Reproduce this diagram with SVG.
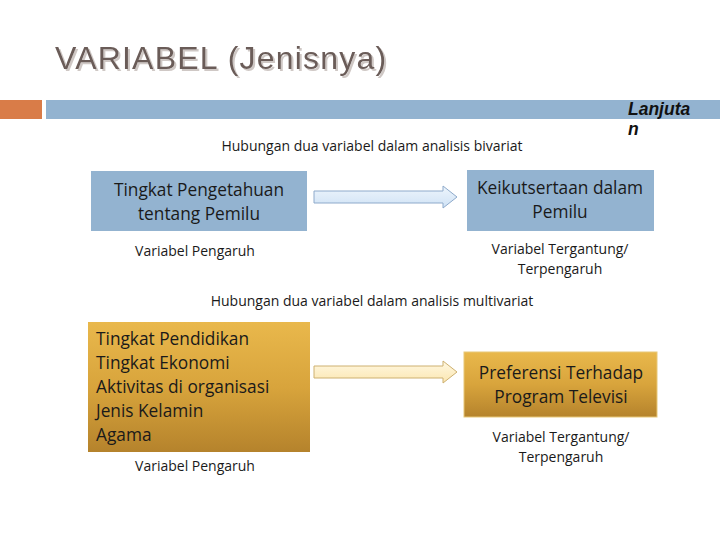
<svg xmlns="http://www.w3.org/2000/svg" width="720" height="540" viewBox="0 0 720 540">
<defs>
<linearGradient id="gold" x1="0" y1="0" x2="0" y2="1">
<stop offset="0" stop-color="#e9b84c"/>
<stop offset="0.5" stop-color="#d8a43c"/>
<stop offset="1" stop-color="#b5832c"/>
</linearGradient>
<linearGradient id="blueArrow" x1="0" y1="0" x2="0" y2="1">
<stop offset="0" stop-color="#eef5fc"/>
<stop offset="1" stop-color="#cfe2f5"/>
</linearGradient>
<linearGradient id="yelArrow" x1="0" y1="0" x2="0" y2="1">
<stop offset="0" stop-color="#fff8e2"/>
<stop offset="1" stop-color="#fbe6b0"/>
</linearGradient>
<filter id="shadow" x="-5%" y="-20%" width="110%" height="140%">
<feDropShadow dx="2" dy="2" stdDeviation="0.4" flood-color="#cfc8c5"/>
</filter>
</defs>
<style>
.t{font-family:"Open Sans","Liberation Sans",sans-serif;fill:#1a1a1a}
.lbl{font-size:14px}
.box{font-size:17.3px}
.blue{fill:#93b3d0}
</style>
<rect width="720" height="540" fill="#ffffff"/>
<g id="title">
<text x="55" y="69" font-family="Liberation Sans,Arial,sans-serif" font-size="32" letter-spacing="1.2" fill="#6b5c58" filter="url(#shadow)">VARIABEL (Jenisnya)</text>
</g>
<g id="bars">
<rect x="0" y="100" width="42" height="19" fill="#d97c48"/>
<rect x="46" y="100" width="674" height="19" fill="#93b3d0"/>
<text x="628" y="115" font-family="Liberation Sans,Arial,sans-serif" font-size="17.5" font-weight="bold" font-style="italic" fill="#111">Lanjuta</text>
<text x="628" y="135" font-family="Liberation Sans,Arial,sans-serif" font-size="17.5" font-weight="bold" font-style="italic" fill="#111">n</text>
</g>
<text class="t lbl" x="372" y="151" text-anchor="middle">Hubungan dua variabel dalam analisis bivariat</text>
<g id="n1">
<rect class="blue" x="91" y="171" width="216" height="60"/>
<text class="t box" x="199" y="196" text-anchor="middle">Tingkat Pengetahuan</text>
<text class="t box" x="199" y="220" text-anchor="middle">tentang Pemilu</text>
</g>
<text class="t lbl" x="195" y="256" text-anchor="middle">Variabel Pengaruh</text>
<g id="n2">
<rect class="blue" x="467" y="170" width="187" height="61"/>
<text class="t box" x="560" y="194" text-anchor="middle">Keikutsertaan dalam</text>
<text class="t box" x="560" y="218" text-anchor="middle">Pemilu</text>
</g>
<text class="t lbl" x="560" y="254" text-anchor="middle">Variabel Tergantung/</text>
<text class="t lbl" x="560" y="274" text-anchor="middle">Terpengaruh</text>
<text class="t lbl" x="372" y="306" text-anchor="middle">Hubungan dua variabel dalam analisis multivariat</text>
<g id="n3">
<rect x="88" y="322" width="222" height="130" fill="url(#gold)"/>
<text class="t box" x="96" y="345">Tingkat Pendidikan</text>
<text class="t box" x="96" y="369">Tingkat Ekonomi</text>
<text class="t box" x="96" y="393">Aktivitas di organisasi</text>
<text class="t box" x="96" y="417">Jenis Kelamin</text>
<text class="t box" x="96" y="441">Agama</text>
</g>
<text class="t lbl" x="195" y="471" text-anchor="middle">Variabel Pengaruh</text>
<g id="n4">
<rect x="464" y="352" width="193" height="65" fill="url(#gold)" stroke="#e8c878" stroke-width="1"/>
<text class="t box" x="561" y="379" text-anchor="middle">Preferensi Terhadap</text>
<text class="t box" x="561" y="403" text-anchor="middle">Program Televisi</text>
</g>
<text class="t lbl" x="561" y="442" text-anchor="middle">Variabel Tergantung/</text>
<text class="t lbl" x="561" y="462" text-anchor="middle">Terpengaruh</text>
<g id="connectors">
<path d="M314,191 H443 V186 L457,197 L443,208 V203 H314 Z" fill="url(#blueArrow)" stroke="#8eaacb" stroke-width="1"/>
<path d="M314,366 H443 V361 L457,372 L443,383 V378 H314 Z" fill="url(#yelArrow)" stroke="#cdb070" stroke-width="1"/>
</g>
</svg>
